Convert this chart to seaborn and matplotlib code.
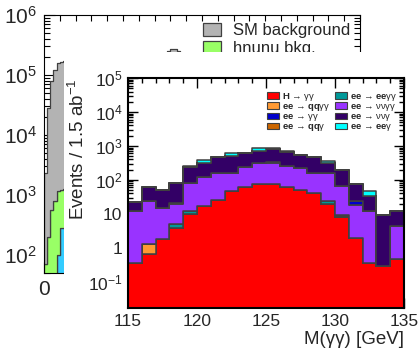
import numpy as np
import pandas as pd
import matplotlib
matplotlib.use("Agg")
import matplotlib.pyplot as plt
import seaborn as sns
from matplotlib.patches import Patch, Rectangle
from matplotlib.ticker import LogLocator, MultipleLocator, FuncFormatter, NullFormatter, FixedLocator

# ---------------- main (wide-range) histogram ----------------
wide_edges = list(range(0, 90, 2))
wide_centers = [1, 3, 5, 7, 9, 11, 13, 79, 81, 83, 85]
sm_background = [2230, 27800, 79400, 119200, 158900, 163600, 168600, 250000, 270000, 270000, 250000]
hnunu_bkg = [70, 200, 560, 800, 1050, 920, 970, 0, 0, 0, 0]
other_bkg = [0, 0, 0, 0, 100, 280, 280, 0, 0, 0, 0]

# ---------------- diphoton mass window, 1 GeV bins ----------------
mass_edges = list(range(115, 136, 1))
mass_centers = [e + 0.5 for e in mass_edges[:-1]]
h_gamgam = [0.35, 0.65, 1.85, 3.9, 10, 17, 26, 46, 60, 78, 78, 60, 49, 40, 20, 8, 1.9, 0.37, 0.3, 0.47]
ee_qqgamgam = [0, 0.65, 0, 0, 0, 0, 0, 0, 0, 0, 0, 0, 0, 0, 0, 0, 0, 0, 0, 0]
ee_gamgam = [0, 0, 0, 1.0, 0, 0, 0, 0, 0, 0, 8, 0, 0, 0, 0, 0, 5.4, 0, 0, 0]
ee_qqgam = [0, 0, 0, 0, 0, 0, 0, 0, 0, 0, 0, 0, 0, 0, 0, 0.8, 0, 0, 0, 0]
ee_eegamgam = [0, 0, 0, 1.2, 2.0, 0, 0, 0, 0, 0, 0, 0, 0, 0, 4.0, 0.7, 0, 0, 0, 0]
ee_nunugamgam = [11.6, 22.7, 13.1, 14.9, 71, 101, 129, 119, 175, 232, 247, 190, 171, 125, 131, 58.5, 16.7, 11.6, 0, 4.0]
ee_nunugam = [10, 36, 37, 62, 157, 202, 305, 355, 365, 380, 457, 400, 340, 295, 170, 122, 54, 21, 8.7, 7.5]
ee_eegam = [0, 0, 0, 0, 17, 74, 20, 80, 40, 160, 110, 40, 0, 0, 25, 0, 0, 13.5, 0, 0]

# legend order (left column then right column)
proc_keys = ["hgg", "qqgg", "gg", "qqg", "eegg", "nngg", "nng", "eeg"]
proc_labels = [
    "$\\mathbf{H}$ → γγ",
    "$\\mathbf{ee}$ → $\\mathbf{qq}$γγ",
    "$\\mathbf{ee}$ → γγ",
    "$\\mathbf{ee}$ → $\\mathbf{qq}$γ",
    "$\\mathbf{ee}$ → $\\mathbf{ee}$γγ",
    "$\\mathbf{ee}$ → ννγγ",
    "$\\mathbf{ee}$ → ννγ",
    "$\\mathbf{ee}$ → $\\mathbf{ee}$γ",
]
proc_colors = ["#ff0000", "#ff9933", "#0000cc", "#cc6600", "#009999", "#9933ff", "#330066", "#00ffff"]
proc_values = [h_gamgam, ee_qqgamgam, ee_gamgam, ee_qqgam, ee_eegamgam, ee_nunugamgam, ee_nunugam, ee_eegam]
# stacking: first hue level ends up on top
stack_top_first = ["eeg", "nng", "gg", "nngg", "eegg", "qqg", "qqgg", "hgg"]

wide_keys = ["SM background", "hnunu bkg.", "other bkg."]
wide_colors = ["#b3b3b3", "#99ff66", "#33ccff"]
wide_values = [sm_background, hnunu_bkg, other_bkg]

sns.set_style("ticks")
plt.rcParams["font.family"] = ["Liberation Sans", "DejaVu Sans"]
plt.rcParams["mathtext.fontset"] = "custom"
plt.rcParams["mathtext.rm"] = "Liberation Sans"
plt.rcParams["mathtext.it"] = "Liberation Sans:italic"
plt.rcParams["mathtext.bf"] = "Liberation Sans:bold"

W, H = 420, 354
fig = plt.figure(figsize=(W / 100, H / 100), dpi=100)
fig.patch.set_facecolor("white")


def fx(px):
    return px / W


def fy(py):
    return 1 - py / H


def log_label(v, pos):
    e = int(round(np.log10(v)))
    if e == 0:
        return "1"
    if e == 1:
        return "10"
    return "$10^{%d}$" % e


edge = "#404040"

# ---------- wide histogram ----------
ax0 = fig.add_axes([fx(44), fy(273), fx(360) - fx(44), fy(15) - fy(273)])
wide_df = pd.DataFrame({
    "x": np.tile(wide_centers, len(wide_keys)),
    "w": np.concatenate(wide_values),
    "sample": np.repeat(wide_keys, len(wide_centers)),
})
sns.histplot(data=wide_df, x="x", weights="w", hue="sample", hue_order=wide_keys,
             bins=wide_edges, multiple="stack", element="step", fill=True,
             palette=dict(zip(wide_keys, wide_colors)), alpha=1, edgecolor=edge,
             linewidth=0.9, legend=False, ax=ax0)
ax0.set_yscale("log")
ax0.set_xlim(0, 200)
ax0.set_ylim(50, 1e6)
ax0.set_xlabel(None)
ax0.set_ylabel(None)
ax0.xaxis.set_major_locator(FixedLocator([0]))
ax0.xaxis.set_minor_locator(MultipleLocator(10))
ax0.yaxis.set_major_locator(LogLocator(10, numticks=30))
ax0.yaxis.set_minor_locator(LogLocator(10, subs=np.arange(2, 10), numticks=30))
ax0.yaxis.set_major_formatter(FuncFormatter(log_label))
ax0.yaxis.set_minor_formatter(NullFormatter())
ax0.tick_params(which="both", direction="in", top=True, right=True, width=0.8, color="black")
ax0.tick_params(which="major", length=8, labelsize=15, pad=5)
ax0.tick_params(which="minor", length=4)
for s in ax0.spines.values():
    s.set_linewidth(0.8)
    s.set_color("black")
ax0.legend(handles=[Patch(facecolor=c, edgecolor=edge, linewidth=0.9) for c in wide_colors[:2]],
           labels=wide_keys[:2], loc="upper left", bbox_to_anchor=(fx(195), fy(15)),
           bbox_transform=fig.transFigure, frameon=False, fontsize=12, borderpad=0,
           handlelength=1.05, handleheight=0.8, handletextpad=0.75, labelspacing=0.15)

# white pad behind the mass-window panel
fig.add_artist(Rectangle((fx(64), 0), 1 - fx(64), fy(52), transform=fig.transFigure,
                         facecolor="white", edgecolor="none", zorder=1))

# ---------- mass-window panel ----------
ax1 = fig.add_axes([fx(128), fy(308), fx(404) - fx(128), fy(78) - fy(308)])
ax1.set_zorder(2)
ax1.set_facecolor("white")
key_color = dict(zip(proc_keys, proc_colors))
mass_df = pd.DataFrame({
    "mass": np.tile(mass_centers, len(proc_keys)),
    "events": np.concatenate(proc_values),
    "process": np.repeat(proc_keys, len(mass_centers)),
})
sns.histplot(data=mass_df, x="mass", weights="events", hue="process", hue_order=stack_top_first,
             bins=mass_edges, multiple="stack", element="step", fill=True,
             palette=key_color, alpha=1, edgecolor=edge, linewidth=1.1, legend=False, ax=ax1)
ax1.set_yscale("log")
ax1.set_xlim(115, 135)
ax1.set_ylim(0.017, 1e5)
ax1.xaxis.set_major_locator(MultipleLocator(5))
ax1.xaxis.set_minor_locator(MultipleLocator(1))
ax1.yaxis.set_major_locator(LogLocator(10, numticks=30))
ax1.yaxis.set_minor_locator(LogLocator(10, subs=np.arange(2, 10), numticks=30))
ax1.yaxis.set_major_formatter(FuncFormatter(log_label))
ax1.yaxis.set_minor_formatter(NullFormatter())
ax1.tick_params(which="both", direction="in", top=True, right=True, width=1.0, color="black")
ax1.tick_params(which="major", length=7, labelsize=12.5, pad=4)
ax1.tick_params(which="minor", length=3.5)
for s in ax1.spines.values():
    s.set_linewidth(1.5)
    s.set_color("black")
ax1.set_xlabel("M(γγ) [GeV]", fontsize=13.5, loc="right")
ax1.xaxis.set_label_coords(1.0, -0.1)
ax1.set_ylabel("Events / 1.5 ab$^{-1}$", fontsize=13.5, loc="top")
ax1.yaxis.set_label_coords(-0.145, 1.0)

ax1.legend(handles=[Patch(facecolor=c, edgecolor=edge, linewidth=0.8) for c in proc_colors],
           labels=proc_labels, ncol=2, loc="upper left", bbox_to_anchor=(fx(262), fy(86)),
           bbox_transform=fig.transFigure, frameon=False, fontsize=6.8, borderpad=0,
           handlelength=1.35, handleheight=0.7, handletextpad=0.25, labelspacing=-0.08,
           columnspacing=0.45)

fig.savefig("out.png", dpi=100, facecolor="white")
